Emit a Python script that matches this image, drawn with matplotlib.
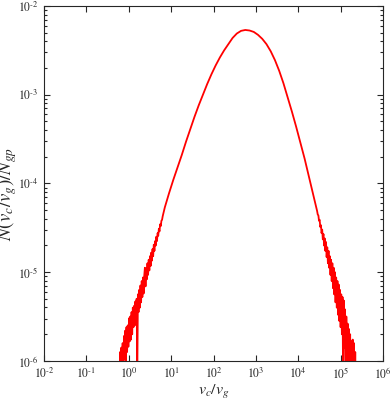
import numpy as np
import matplotlib
matplotlib.use("Agg")
import matplotlib.pyplot as plt
from matplotlib.ticker import LogLocator, NullLocator, FuncFormatter

# values, stored as log10(x), log10(y)
left_tail_logx = [-0.220, -0.205, -0.190, -0.175, -0.160, -0.145, -0.130, -0.115, -0.100, -0.085,
                  -0.070, -0.055, -0.040, -0.025, -0.010, 0.005, 0.020, 0.035, 0.050, 0.065,
                  0.080, 0.095, 0.110, 0.125, 0.140, 0.155, 0.170, 0.185, 0.200, 0.215,
                  0.230, 0.245, 0.260, 0.275, 0.290, 0.305, 0.320, 0.335, 0.350, 0.365,
                  0.380, 0.395, 0.410, 0.425, 0.440, 0.455, 0.470, 0.485, 0.500, 0.515,
                  0.530, 0.545, 0.560, 0.575, 0.590, 0.605, 0.620, 0.635, 0.650, 0.665,
                  0.680, 0.695, 0.710, 0.725, 0.740, 0.755, 0.770, 0.785, 0.800]
left_tail_logy = [-6.35, -5.90, -6.30, -5.85, -6.15, -5.80, -6.40, -5.72, -5.98, -5.66,
                  -6.05, -5.62, -5.90, -5.60, -5.84, -5.52, -5.78, -5.50, -5.76, -5.45,
                  -5.70, -5.40, -5.62, -5.38, -5.60, -5.33, -5.52, -5.30, -6.20, -5.25,
                  -5.45, -5.20, -5.40, -5.15, -5.34, -5.10, -5.28, -5.06, -5.24, -5.04,
                  -4.95, -5.16, -4.96, -5.08, -4.90, -5.03, -4.86, -4.98, -4.82, -4.93,
                  -4.78, -4.87, -4.74, -4.82, -4.69, -4.76, -4.65, -4.70, -4.60, -4.65,
                  -4.56, -4.59, -4.51, -4.54, -4.46, -4.48, -4.42, -4.41, -4.37]

core_logx = [0.85, 0.95, 1.05, 1.15, 1.25, 1.35, 1.45, 1.55, 1.65, 1.75,
             1.85, 1.95, 2.05, 2.15, 2.25, 2.35, 2.45, 2.55, 2.65, 2.75,
             2.85, 2.95, 3.05, 3.15, 3.25, 3.35, 3.45, 3.55, 3.65, 3.75,
             3.85, 3.95, 4.05, 4.15, 4.25, 4.35, 4.445]
core_logy = [-4.27, -4.11, -3.96, -3.82, -3.68, -3.53, -3.39, -3.25, -3.12, -3.00,
             -2.88, -2.77, -2.67, -2.58, -2.50, -2.43, -2.36, -2.31, -2.28, -2.27,
             -2.276, -2.292, -2.325, -2.37, -2.43, -2.51, -2.61, -2.73, -2.87, -3.03,
             -3.19, -3.36, -3.54, -3.72, -3.92, -4.12, -4.31]

right_tail_logx = [4.460, 4.475, 4.490, 4.505, 4.520, 4.535, 4.550, 4.565, 4.580, 4.595,
                   4.610, 4.625, 4.640, 4.655, 4.670, 4.685, 4.700, 4.715, 4.730, 4.745,
                   4.760, 4.775, 4.790, 4.805, 4.820, 4.835, 4.850, 4.865, 4.880, 4.895,
                   4.910, 4.925, 4.940, 4.955, 4.970, 4.985, 5.000, 5.015, 5.030, 5.045,
                   5.060, 5.075, 5.090, 5.105, 5.120, 5.135, 5.150, 5.165, 5.180, 5.195,
                   5.210, 5.225, 5.240, 5.255, 5.270, 5.285, 5.300, 5.315, 5.330, 5.345,
                   5.360]
right_tail_logy = [-4.35, -4.36, -4.42, -4.41, -4.49, -4.47, -4.56, -4.52, -4.63, -4.57,
                   -4.70, -4.62, -4.76, -4.66, -4.83, -4.72, -4.90, -4.76, -4.95, -4.82,
                   -5.03, -4.86, -5.10, -4.90, -5.18, -4.95, -5.25, -5.00, -5.34, -5.06,
                   -5.40, -5.10, -5.48, -5.14, -5.55, -5.20, -5.62, -5.25, -5.70, -5.28,
                   -6.30, -5.32, -5.85, -5.42, -6.30, -5.50, -5.95, -5.58, -6.20, -5.64,
                   -6.05, -5.70, -6.35, -5.78, -6.30, -5.76, -6.40, -5.80, -6.45, -5.90,
                   -6.50]

logx = np.array(left_tail_logx + core_logx + right_tail_logx)
logy = np.array(left_tail_logy + core_logy + right_tail_logy)
x = 10.0 ** logx
y = 10.0 ** logy

plt.rcParams['font.family'] = ['Liberation Serif', 'DejaVu Serif']
plt.rcParams['mathtext.fontset'] = 'stix'


def dec_label(v, pos):
    e = int(round(np.log10(v)))
    if e < 0:
        return r'$10^{\text{-%d}}$' % (-e)
    return r'$10^{%d}$' % e


axcol = '#262626'
fig = plt.figure(figsize=(3.9, 4.01), dpi=100)
ax = fig.add_axes([0.113, 0.100, 0.869, 0.885])
ax.plot(x, y, color='red', linewidth=1.3)

ax.set_xscale('log')
ax.set_yscale('log')
ax.set_xlim(1e-2, 1e6)
ax.set_ylim(1e-6, 1e-2)
ax.xaxis.set_major_locator(LogLocator(base=10, numticks=20))
ax.xaxis.set_minor_locator(NullLocator())
ax.yaxis.set_major_locator(LogLocator(base=10, numticks=20))
ax.yaxis.set_minor_locator(LogLocator(base=10, subs=np.arange(2, 10), numticks=20))
ax.xaxis.set_major_formatter(FuncFormatter(dec_label))
ax.yaxis.set_major_formatter(FuncFormatter(dec_label))

ax.tick_params(which='both', direction='in', top=True, right=True, colors=axcol,
               labelsize=8.5, width=0.8)
ax.tick_params(which='major', length=4)
ax.tick_params(which='minor', length=2)
ax.tick_params(axis='x', pad=4)
ax.tick_params(axis='y', pad=4)
for s in ax.spines.values():
    s.set_color(axcol)
    s.set_linewidth(0.8)

ax.set_xlabel(r'$v_c/v_g$', fontsize=11.5, color=axcol, labelpad=1)
ax.set_ylabel(r'$N(v_c/v_g)/N_{gp}$', fontsize=13.5, color=axcol)
ax.yaxis.set_label_coords(-0.075, 0.47)

fig.savefig('out.png', dpi=100)
